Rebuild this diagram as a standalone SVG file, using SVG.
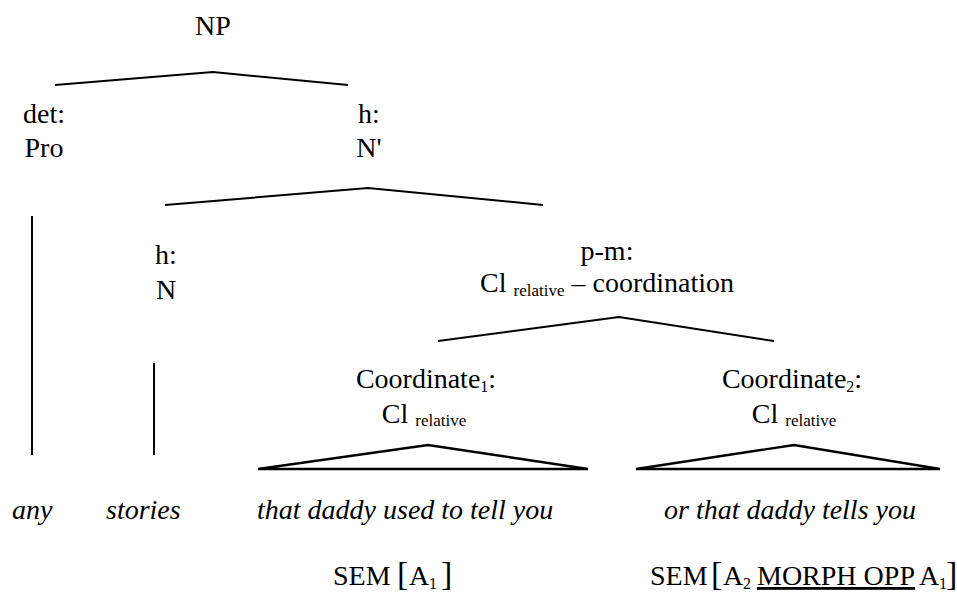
<svg xmlns="http://www.w3.org/2000/svg" width="957" height="592" viewBox="0 0 957 592">
  <style>
    text { font-family: "Liberation Serif", serif; font-size: 28px; fill: #000; }
    .mid { text-anchor: middle; }
    .it { font-style: italic; }
    .sub { font-size: 17px; }
    .idx { font-size: 16px; }
    .br { font-size: 34px; }
    .edge { fill: none; stroke: #000; stroke-width: 2; stroke-linejoin: miter; }
    .tri { fill: none; stroke: #000; stroke-width: 2.4; stroke-linejoin: miter; }
  </style>

  <rect width="957" height="592" fill="#fff"/>

  <!-- branches of the tree -->
  <g id="connectors">
    <polyline class="edge" points="55,85 213,72 348,85"/>
    <polyline class="edge" points="165,205 368,188 543,205"/>
    <polyline class="edge" points="438,341 619,317 774,341"/>
    <line class="edge" x1="32" y1="216" x2="32" y2="455"/>
    <line class="edge" x1="154" y1="363" x2="154" y2="455"/>
    <polygon class="tri" points="258,469 428,445 588,469"/>
    <polygon class="tri" points="636,469 794,445 940,469"/>
  </g>

  <g id="np">
    <text x="213" y="35" text-anchor="middle">NP</text>
  </g>

  <g id="det">
    <text x="44" y="123" text-anchor="middle">det:</text>
    <text x="44" y="157" text-anchor="middle">Pro</text>
  </g>

  <g id="head-nbar">
    <text x="369" y="123" text-anchor="middle">h:</text>
    <text x="369" y="157" text-anchor="middle">N'</text>
  </g>

  <g id="head-n">
    <text x="166" y="264" text-anchor="middle">h:</text>
    <text x="166" y="299" text-anchor="middle">N</text>
  </g>

  <g id="postmod">
    <text x="607" y="260" text-anchor="middle">p-m:</text>
    <text x="607" y="292" text-anchor="middle">Cl <tspan class="sub" dy="4">relative</tspan><tspan dy="-4"> – coordination</tspan></text>
  </g>

  <g id="coord1">
    <text x="426" y="388" text-anchor="middle">Coordinate<tspan class="idx" dy="4">1</tspan><tspan dy="-4">:</tspan></text>
    <text x="424" y="423" text-anchor="middle">Cl <tspan class="sub" dy="3">relative</tspan></text>
  </g>

  <g id="coord2">
    <text x="792" y="388" text-anchor="middle">Coordinate<tspan class="idx" dy="4">2</tspan><tspan dy="-4">:</tspan></text>
    <text x="794" y="423" text-anchor="middle">Cl <tspan class="sub" dy="3">relative</tspan></text>
  </g>

  <g id="words">
    <text class="it" x="12" y="519">any</text>
    <text class="it" x="106" y="519">stories</text>
    <text class="it" x="257" y="519">that daddy used to tell you</text>
    <text class="it" x="664" y="519">or that daddy tells you</text>
  </g>

  <g id="sem1">
    <text x="333" y="585">SEM<tspan class="br" x="397">[</tspan><tspan x="409">A</tspan><tspan class="idx" x="429" dy="4">1</tspan><tspan class="br" x="441" dy="-4">]</tspan></text>
  </g>

  <g id="sem2">
    <text x="650" y="585">SEM<tspan class="br" x="711">[</tspan><tspan x="723">A</tspan><tspan class="idx" x="743" dy="4">2</tspan><tspan x="757" dy="-4" text-decoration="underline">MORPH OPP</tspan><tspan x="919">A</tspan><tspan class="idx" x="939" dy="4">1</tspan><tspan class="br" x="946" dy="-4">]</tspan></text>
  </g>
</svg>
